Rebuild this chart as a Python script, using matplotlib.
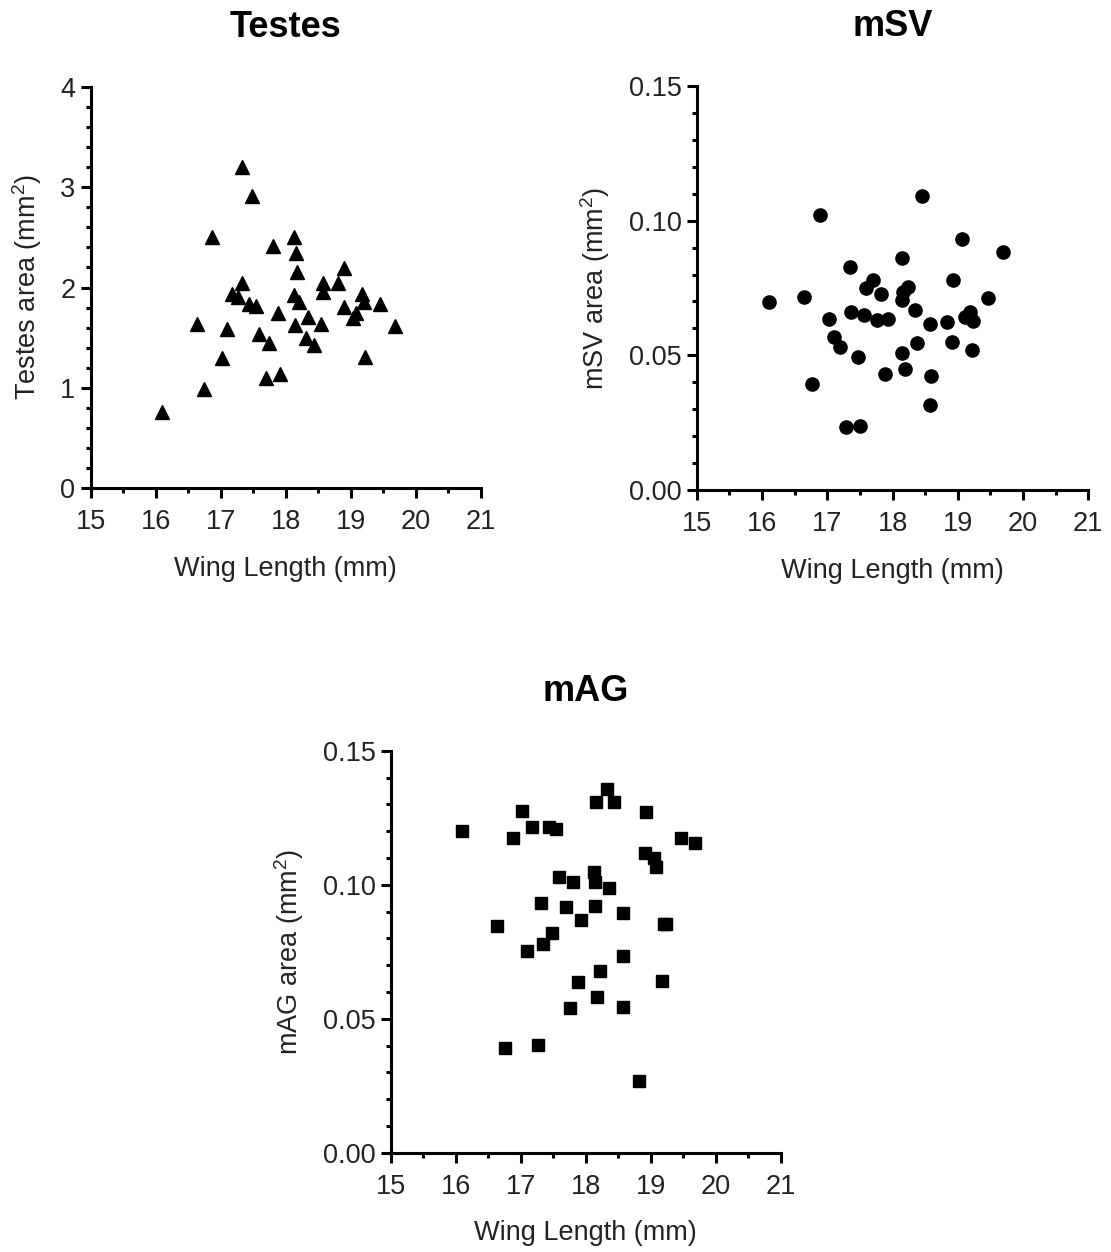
import matplotlib
matplotlib.use("Agg")
import matplotlib.pyplot as plt
from matplotlib.ticker import MultipleLocator, FormatStrFormatter

plt.rcParams['font.family'] = ['Liberation Sans', 'DejaVu Sans']
plt.rcParams['mathtext.fontset'] = 'custom'
plt.rcParams['mathtext.rm'] = 'Liberation Sans'
plt.rcParams['mathtext.it'] = 'Liberation Sans:italic'

# Testes area vs wing length
testes_x = [17.33, 17.48, 16.87, 17.80, 18.13, 18.16, 18.17, 18.90, 18.58, 18.81,
            18.57, 17.33, 17.17, 17.26, 17.43, 17.55, 18.13, 18.21, 19.17, 19.20,
            19.45, 18.90, 19.08, 19.04, 17.88, 18.35, 18.55, 18.14, 16.63, 17.10,
            19.68, 17.59, 17.75, 18.32, 18.44, 17.02, 19.22, 17.70, 17.91, 16.74,
            16.09]
testes_y = [3.20, 2.91, 2.50, 2.41, 2.50, 2.34, 2.15, 2.19, 2.04, 2.04,
            1.96, 2.04, 1.94, 1.91, 1.84, 1.82, 1.93, 1.86, 1.94, 1.86,
            1.84, 1.81, 1.75, 1.70, 1.75, 1.71, 1.64, 1.63, 1.64, 1.59,
            1.62, 1.54, 1.45, 1.50, 1.43, 1.30, 1.31, 1.10, 1.14, 0.99,
            0.76]

# mSV area vs wing length
msv_x = [18.45, 16.89, 19.07, 19.69, 18.14, 17.35, 18.93, 17.70, 17.60, 17.82,
         18.23, 18.16, 18.15, 16.11, 16.65, 19.47, 18.34, 17.36, 17.56, 17.77,
         17.93, 17.03, 19.19, 19.11, 19.24, 18.57, 18.83, 17.11, 17.19, 18.37,
         18.91, 19.22, 17.47, 18.15, 18.19, 17.89, 18.59, 16.77, 18.57, 17.28,
         17.50]
msv_y = [0.1093, 0.1020, 0.0931, 0.0883, 0.0863, 0.0827, 0.0780, 0.0780, 0.0751, 0.0728,
         0.0753, 0.0736, 0.0705, 0.0699, 0.0718, 0.0712, 0.0668, 0.0660, 0.0650, 0.0631,
         0.0634, 0.0635, 0.0662, 0.0644, 0.0628, 0.0616, 0.0623, 0.0569, 0.0530, 0.0545,
         0.0548, 0.0520, 0.0495, 0.0508, 0.0448, 0.0430, 0.0424, 0.0392, 0.0316, 0.0235,
         0.0239]

# mAG area vs wing length
mag_x = [18.33, 18.16, 18.44, 17.02, 18.92, 16.09, 16.88, 17.18, 17.44, 17.55,
         19.47, 19.68, 18.91, 19.05, 19.08, 17.59, 17.80, 18.13, 18.14, 18.36,
         17.32, 17.70, 18.14, 18.58, 17.92, 16.63, 19.20, 19.23, 17.48, 17.34,
         17.10, 18.57, 18.22, 17.88, 19.18, 18.18, 17.76, 18.57, 16.76, 17.27,
         18.82]
mag_y = [0.1357, 0.1307, 0.1307, 0.1276, 0.1271, 0.1200, 0.1173, 0.1214, 0.1216, 0.1208,
         0.1173, 0.1157, 0.1119, 0.1098, 0.1067, 0.1030, 0.1009, 0.1046, 0.1011, 0.0987,
         0.0931, 0.0918, 0.0922, 0.0896, 0.0867, 0.0845, 0.0855, 0.0852, 0.0821, 0.0779,
         0.0754, 0.0734, 0.0679, 0.0636, 0.0642, 0.0580, 0.0541, 0.0545, 0.0390, 0.0402,
         0.0269]

W, H = 1111, 1252
fig = plt.figure(figsize=(W / 100, H / 100), dpi=100)


def px_axes(left, top, right, bottom):
    return fig.add_axes([left / W, 1 - bottom / H, (right - left) / W, (bottom - top) / H])


def style(ax, title, ylabel, ymax, ymajor, yminor, fmt):
    ax.set_xlim(15, 21)
    ax.set_ylim(0, ymax)
    ax.xaxis.set_major_locator(MultipleLocator(1))
    ax.xaxis.set_minor_locator(MultipleLocator(0.5))
    ax.yaxis.set_major_locator(MultipleLocator(ymajor))
    ax.yaxis.set_minor_locator(MultipleLocator(yminor))
    ax.yaxis.set_major_formatter(FormatStrFormatter(fmt))
    for s in ['top', 'right']:
        ax.spines[s].set_visible(False)
    for s in ['left', 'bottom']:
        ax.spines[s].set_linewidth(2.2)
    ax.tick_params(which='major', length=7, width=2.2, labelsize=19.5,
                   labelcolor='#222222')
    ax.tick_params(axis='x', which='major', pad=8)
    ax.tick_params(axis='y', which='major', pad=4)
    ax.tick_params(which='minor', length=3.5, width=2.2)
    ax.set_xlabel('Wing Length (mm)', fontsize=19.5, labelpad=15, color='#222222')
    ax.set_ylabel(ylabel, fontsize=19.5, labelpad=12, color='#222222')
    ax.set_title(title, fontsize=26, fontweight='bold', pad=36)


ax1 = px_axes(90.7, 87, 480.7, 488)
ax1.plot(testes_x, testes_y, '^', color='black', markersize=10.5, clip_on=False)
style(ax1, 'Testes', 'Testes area (mm$^2$)', 4, 1, 0.2, '%d')

ax2 = px_axes(696.7, 86, 1088.3, 490)
ax2.plot(msv_x, msv_y, 'o', color='black', markersize=9.5, clip_on=False)
style(ax2, 'mSV', 'mSV area (mm$^2$)', 0.15, 0.05, 0.01, '%.2f')

ax3 = px_axes(390.7, 750.7, 780.7, 1152.7)
ax3.plot(mag_x, mag_y, 's', color='black', markersize=8.8, clip_on=False)
style(ax3, 'mAG', 'mAG area (mm$^2$)', 0.15, 0.05, 0.01, '%.2f')

fig.savefig('out.png', dpi=100)
